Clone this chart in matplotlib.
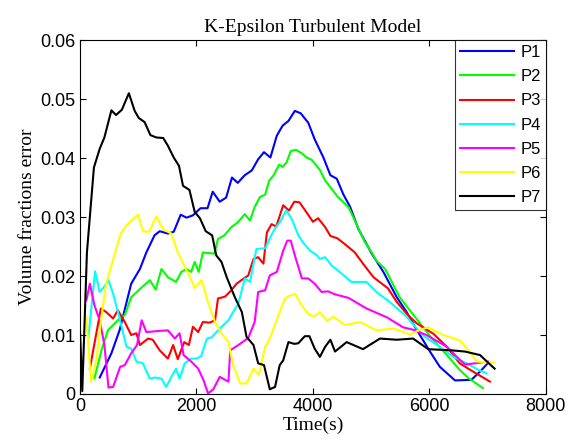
import numpy as np
import matplotlib.pyplot as plt

# Volume fraction error at the seven probe points, K-Epsilon model
t_p1 = [340, 540, 680, 880, 1030, 1140, 1280, 1370, 1510, 1610, 1730, 1830, 1940, 2070, 2190,
        2280, 2400, 2510, 2610, 2710, 2830, 2950, 3060, 3160, 3270, 3380, 3480, 3580, 3690,
        3790, 3920, 4030, 4180, 4300, 4410, 4520, 4640, 4780, 5010, 5210, 5440, 5610, 5750,
        6010, 6180, 6440, 6720, 6870, 7010]
v_p1 = [0.0028, 0.0069, 0.0108, 0.0187, 0.0212, 0.0240, 0.0269, 0.0276, 0.0272, 0.0275, 0.0304,
        0.0299, 0.0303, 0.0315, 0.0315, 0.0343, 0.0326, 0.0333, 0.0367, 0.0358, 0.0371, 0.0379,
        0.0398, 0.0410, 0.0401, 0.0438, 0.0455, 0.0463, 0.0480, 0.0476, 0.0460, 0.0432, 0.0401,
        0.0371, 0.0365, 0.0339, 0.0317, 0.0280, 0.0238, 0.0207, 0.0164, 0.0139, 0.0114, 0.0072,
        0.0046, 0.0023, 0.0024, 0.0038, 0.0053]

t_p2 = [250, 370, 480, 570, 650, 770, 880, 1030, 1200, 1300, 1400, 1510, 1650, 1740, 1830,
        1910, 1970, 2040, 2110, 2310, 2370, 2480, 2600, 2710, 2830, 2920, 3000, 3090, 3180,
        3250, 3320, 3420, 3480, 3550, 3620, 3710, 3810, 3890, 3980, 4120, 4210, 4320, 4430,
        4610, 4720, 4890, 5010, 5090, 5240, 5490, 5750, 6070, 6300, 6520, 6670, 6920]
v_p2 = [0.0027, 0.0074, 0.0108, 0.0117, 0.0125, 0.0134, 0.0164, 0.0178, 0.0193, 0.0177, 0.0212,
        0.0198, 0.0190, 0.0207, 0.0212, 0.0207, 0.0224, 0.0207, 0.0240, 0.0238, 0.0263, 0.0269,
        0.0283, 0.0291, 0.0305, 0.0294, 0.0317, 0.0334, 0.0338, 0.0362, 0.0370, 0.0389, 0.0385,
        0.0393, 0.0412, 0.0414, 0.0408, 0.0401, 0.0397, 0.0380, 0.0362, 0.0348, 0.0334, 0.0317,
        0.0294, 0.0258, 0.0240, 0.0226, 0.0212, 0.0164, 0.0131, 0.0091, 0.0066, 0.0041, 0.0027,
        0.0010]

t_p3 = [170, 360, 450, 570, 650, 770, 880, 970, 1030, 1170, 1250, 1370, 1510, 1600, 1680,
        1790, 1870, 1940, 2030, 2110, 2230, 2320, 2370, 2490, 2600, 2690, 2800, 2890, 2980,
        3060, 3150, 3210, 3290, 3370, 3490, 3590, 3680, 3770, 3890, 4000, 4090, 4210, 4300,
        4420, 4550, 4720, 4860, 5040, 5290, 5440, 5610, 5780, 6070, 6300, 6520, 6750, 7040]
v_p3 = [0.0043, 0.0145, 0.0139, 0.0128, 0.0142, 0.0122, 0.0100, 0.0103, 0.0083, 0.0094, 0.0092,
        0.0074, 0.0060, 0.0083, 0.0059, 0.0088, 0.0083, 0.0114, 0.0105, 0.0122, 0.0121, 0.0125,
        0.0162, 0.0165, 0.0176, 0.0187, 0.0195, 0.0201, 0.0229, 0.0232, 0.0221, 0.0274, 0.0288,
        0.0284, 0.0320, 0.0311, 0.0326, 0.0325, 0.0308, 0.0292, 0.0298, 0.0283, 0.0268, 0.0264,
        0.0254, 0.0240, 0.0221, 0.0198, 0.0179, 0.0156, 0.0136, 0.0120, 0.0102, 0.0080, 0.0052,
        0.0038, 0.0021]

t_p4 = [140, 260, 340, 410, 490, 570, 680, 800, 880, 970, 1080, 1200, 1280, 1400, 1480,
        1570, 1650, 1710, 1800, 1910, 2000, 2080, 2180, 2260, 2400, 2550, 2630, 2720, 2830,
        2920, 3030, 3180, 3260, 3350, 3430, 3540, 3630, 3750, 3830, 3950, 4060, 4120, 4210,
        4320, 4460, 4660, 4920, 5090, 5320, 5610, 5810, 5920, 6180, 6410, 6640, 6840, 6980]
v_p4 = [0.0091, 0.0208, 0.0173, 0.0181, 0.0193, 0.0170, 0.0128, 0.0080, 0.0077, 0.0055, 0.0052,
        0.0026, 0.0028, 0.0026, 0.0012, 0.0029, 0.0043, 0.0026, 0.0052, 0.0060, 0.0060, 0.0064,
        0.0094, 0.0096, 0.0111, 0.0125, 0.0139, 0.0153, 0.0196, 0.0190, 0.0246, 0.0247, 0.0264,
        0.0281, 0.0291, 0.0311, 0.0298, 0.0269, 0.0257, 0.0243, 0.0236, 0.0229, 0.0232, 0.0218,
        0.0207, 0.0190, 0.0190, 0.0173, 0.0156, 0.0131, 0.0108, 0.0097, 0.0080, 0.0063, 0.0052,
        0.0041, 0.0035]

t_p5 = [110, 170, 250, 340, 420, 490, 570, 690, 770, 880, 980, 1060, 1140, 1370, 1510, 1630,
        1710, 1780, 1910, 2030, 2120, 2200, 2290, 2400, 2550, 2580, 2720, 2890, 3000, 3060,
        3180, 3260, 3380, 3490, 3560, 3620, 3690, 3810, 3920, 4030, 4150, 4260, 4380, 4610,
        4920, 5270, 5550, 5720, 5950, 6300, 6470, 6610, 6780, 7010]
v_p5 = [0.0159, 0.0187, 0.0150, 0.0125, 0.0083, 0.0011, 0.0012, 0.0046, 0.0049, 0.0069, 0.0083,
        0.0125, 0.0105, 0.0107, 0.0108, 0.0094, 0.0103, 0.0066, 0.0055, 0.0043, 0.0024, 0.0001,
        0.0008, 0.0029, 0.0021, 0.0074, 0.0083, 0.0095, 0.0122, 0.0173, 0.0176, 0.0201, 0.0207,
        0.0243, 0.0260, 0.0260, 0.0235, 0.0196, 0.0196, 0.0187, 0.0173, 0.0174, 0.0169, 0.0163,
        0.0145, 0.0130, 0.0113, 0.0109, 0.0100, 0.0080, 0.0063, 0.0050, 0.0052, 0.0055]

t_p6 = [110, 190, 280, 370, 450, 540, 600, 700, 800, 880, 1000, 1080, 1190, 1310, 1430,
        1570, 1680, 1750, 1890, 1970, 2090, 2200, 2320, 2430, 2550, 2630, 2750, 2860, 2980,
        3070, 3180, 3260, 3400, 3520, 3610, 3690, 3810, 3920, 4010, 4120, 4240, 4350, 4550,
        4810, 5090, 5380, 5670, 5840, 5980, 6240, 6520, 6670, 6810, 7120]
v_p6 = [0.0130, 0.0021, 0.0057, 0.0131, 0.0187, 0.0218, 0.0238, 0.0272, 0.0286, 0.0294, 0.0304,
        0.0276, 0.0275, 0.0301, 0.0279, 0.0272, 0.0240, 0.0226, 0.0198, 0.0180, 0.0193, 0.0155,
        0.0122, 0.0103, 0.0088, 0.0049, 0.0018, 0.0018, 0.0043, 0.0032, 0.0080, 0.0094, 0.0131,
        0.0162, 0.0167, 0.0170, 0.0150, 0.0136, 0.0131, 0.0139, 0.0124, 0.0131, 0.0117, 0.0122,
        0.0108, 0.0111, 0.0101, 0.0109, 0.0113, 0.0100, 0.0091, 0.0074, 0.0055, 0.0053]

t_p7 = [0, 40, 120, 240, 340, 420, 540, 620, 720, 840, 940, 1010, 1110, 1210, 1310, 1430,
        1510, 1610, 1700, 1770, 1880, 1970, 2060, 2160, 2270, 2340, 2430, 2520, 2660, 2780,
        2860, 2980, 3060, 3160, 3260, 3350, 3430, 3490, 3580, 3680, 3750, 3860, 3940, 4030,
        4120, 4210, 4300, 4380, 4580, 4860, 5150, 5440, 5720, 5980, 6380, 6610, 6870, 7010,
        7120]
v_p7 = [0.0112, 0.0005, 0.0240, 0.0384, 0.0416, 0.0435, 0.0481, 0.0473, 0.0482, 0.0510, 0.0480,
        0.0468, 0.0461, 0.0439, 0.0435, 0.0434, 0.0421, 0.0401, 0.0387, 0.0353, 0.0346, 0.0309,
        0.0298, 0.0276, 0.0269, 0.0235, 0.0224, 0.0198, 0.0164, 0.0139, 0.0097, 0.0083, 0.0052,
        0.0049, 0.0008, 0.0012, 0.0049, 0.0057, 0.0088, 0.0085, 0.0086, 0.0098, 0.0098, 0.0077,
        0.0063, 0.0080, 0.0092, 0.0072, 0.0088, 0.0076, 0.0094, 0.0092, 0.0094, 0.0076, 0.0074,
        0.0072, 0.0066, 0.0053, 0.0043]

series = [(t_p1, v_p1, 'P1', 'b'), (t_p2, v_p2, 'P2', 'lime'), (t_p3, v_p3, 'P3', 'r'),
          (t_p4, v_p4, 'P4', 'cyan'), (t_p5, v_p5, 'P5', 'magenta'), (t_p6, v_p6, 'P6', 'yellow'),
          (t_p7, v_p7, 'P7', 'k')]

plt.rcParams['font.family'] = ['Liberation Sans', 'DejaVu Sans']
fig = plt.figure(figsize=(5.71, 4.46), dpi=100)
ax = fig.add_axes([0.140, 0.1166, 0.816, 0.7934])

for t, v, name, col in series:
    ax.plot(t, v, color=col, lw=1.5, label=name)

ax.set_xlim(0, 8000)
ax.set_ylim(0, 0.06)
ax.set_xticks([0, 2000, 4000, 6000, 8000])
ax.set_yticks([0, 0.01, 0.02, 0.03, 0.04, 0.05, 0.06])
ax.set_yticklabels(['0', '0.01', '0.02', '0.03', '0.04', '0.05', '0.06'])
ax.tick_params(direction='in', top=True, right=True, labelsize=13, length=4, pad=3)
for s in ax.spines.values():
    s.set_linewidth(0.8)

ax.set_title('K-Epsilon Turbulent Model', family='Liberation Serif', fontsize=14, pad=6)
ax.set_xlabel('Time(s)', family='Liberation Serif', fontsize=14, labelpad=1)
ax.set_ylabel('Volume fractions error', family='Liberation Serif', fontsize=14, labelpad=3)

leg = ax.legend(loc='upper right', borderaxespad=0, fancybox=False, edgecolor='k',
                fontsize=12, handlelength=3.2, labelspacing=0.55, borderpad=0.3,
                handletextpad=0.4)
leg.get_frame().set_linewidth(0.8)

fig.savefig('out.png', dpi=100)
